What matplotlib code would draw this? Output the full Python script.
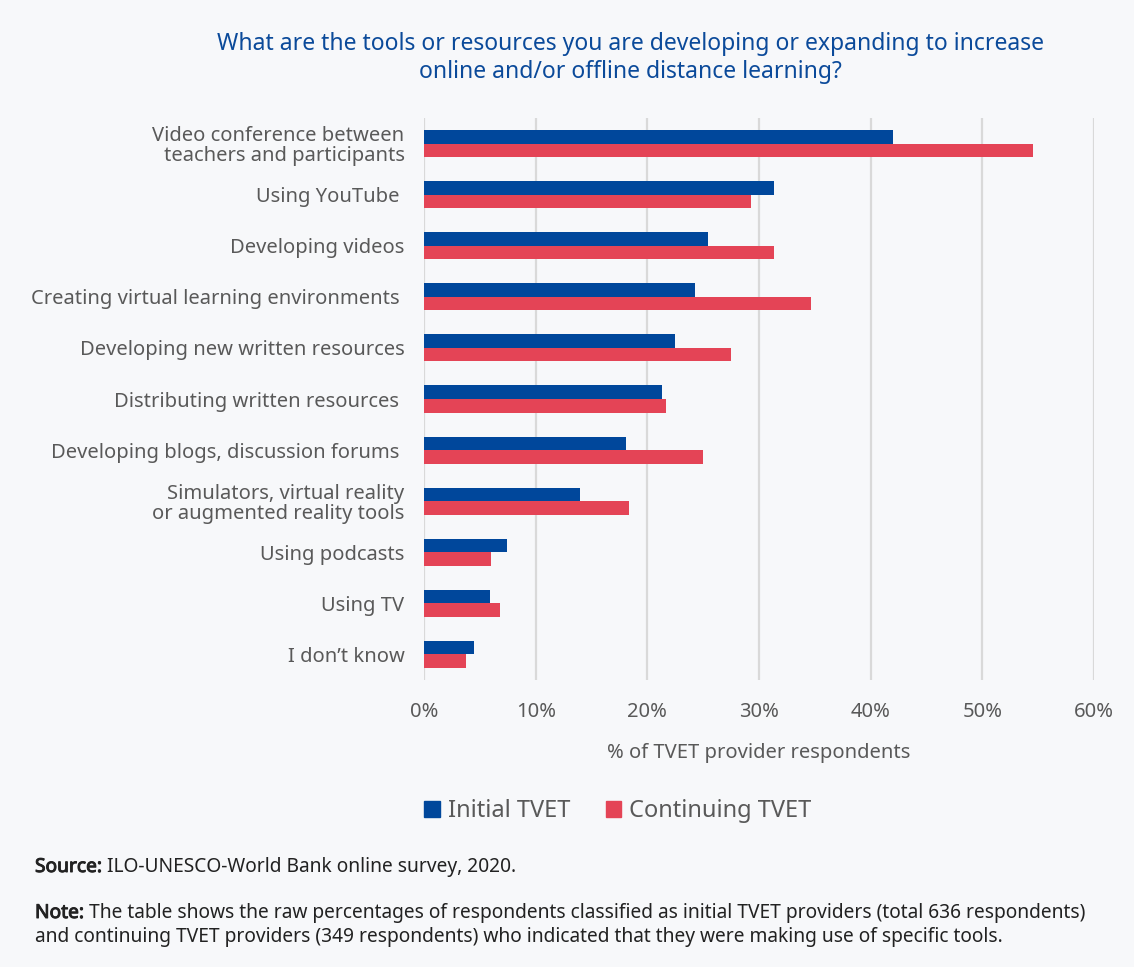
import numpy as np
import matplotlib
matplotlib.use('Agg')
import matplotlib.pyplot as plt
import matplotlib.patheffects as pe
from matplotlib.patches import Patch

plt.rcParams['font.family'] = ['Noto Sans', 'DejaVu Sans']

categories = ['Video conference between\nteachers and participants', 'Using YouTube ', 'Developing videos',
              'Creating virtual learning environments ', 'Developing new written resources',
              'Distributing written resources ', 'Developing blogs, discussion forums ',
              'Simulators, virtual reality\nor augmented reality tools', 'Using podcasts', 'Using TV',
              'I don\u2019t know']
initial = [42.0, 31.3, 25.4, 24.3, 22.5, 21.3, 18.1, 14.0, 7.4, 5.9, 4.5]
continuing = [54.5, 29.3, 31.3, 34.7, 27.5, 21.7, 25.0, 18.4, 6.0, 6.8, 3.8]
xticks = [0, 10, 20, 30, 40, 50, 60]

bg = '#f7f8fa'
blue = '#00479b'
red = '#e44456'
grey = '#595959'
dark = '#222222'

fig = plt.figure(figsize=(11.34, 9.67), dpi=100, facecolor=bg)
ax = fig.add_axes([424/1134, 1-680/967, 670/1134, 562/967], facecolor=bg)

y = np.arange(len(categories))
h = 0.265
ax.barh(y - h/2, initial, height=h, color=blue, zorder=3)
ax.barh(y + h/2, continuing, height=h, color=red, zorder=3)

ax.set_xlim(0, 60)
ax.set_ylim(len(categories) - 0.5, -0.5)
ax.set_xticks(xticks)
ax.set_xticklabels([f'{t}%' for t in xticks], fontsize=14.5, color=grey)
ax.set_yticks(y)
ax.set_yticklabels(categories, fontsize=14.5, color=grey, linespacing=1.0)
ax.tick_params(length=0, pad=16, axis='x')
ax.tick_params(length=0, pad=14, axis='y')
ax.grid(axis='x', color='#d9d9d9', lw=1.6, zorder=0)
for s in ax.spines.values():
    s.set_visible(False)
ax.set_xlabel('% of TVET provider respondents', fontsize=14.5, color=grey, labelpad=15)

fig.text(0.556, 1-58/967, 'What are the tools or resources you are developing or expanding to increase\nonline and/or offline distance learning?',
         ha='center', va='center', fontsize=16.5, color='#0b4a9a', linespacing=1.22)

handles = [Patch(color=blue, label='Initial TVET'), Patch(color=red, label='Continuing TVET')]
fig.legend(handles=handles, loc='center', bbox_to_anchor=(618/1134, 1-811/967), ncol=2, frameon=False,
           fontsize=17, labelcolor=grey, handlelength=0.65, handleheight=0.65, handletextpad=0.35,
           columnspacing=1.5)

# source and note with bold lead-in words (stroke gives the bold look)
fs = 13.8
bold = [pe.withStroke(linewidth=0.7, foreground=dark)]
src = fig.text(35/1134, 1-867/967, 'Source:', fontsize=fs, color=dark, va='center', path_effects=bold)
ax.annotate(' ILO-UNESCO-World Bank online survey, 2020.', xy=(1, 0.5), xycoords=src, va='center',
            ha='left', fontsize=fs, color=dark, annotation_clip=False)
note = fig.text(35/1134, 1-913/967, 'Note:', fontsize=fs, color=dark, va='center', path_effects=bold)
ax.annotate(' The table shows the raw percentages of respondents classified as initial TVET providers (total 636 respondents)',
            xy=(1, 0.5), xycoords=note, va='center', ha='left', fontsize=fs, color=dark, annotation_clip=False)
fig.text(35/1134, 1-937/967, 'and continuing TVET providers (349 respondents) who indicated that they were making use of specific tools.',
         fontsize=fs, color=dark, va='center')

fig.savefig('out.png', dpi=100, facecolor=bg)
